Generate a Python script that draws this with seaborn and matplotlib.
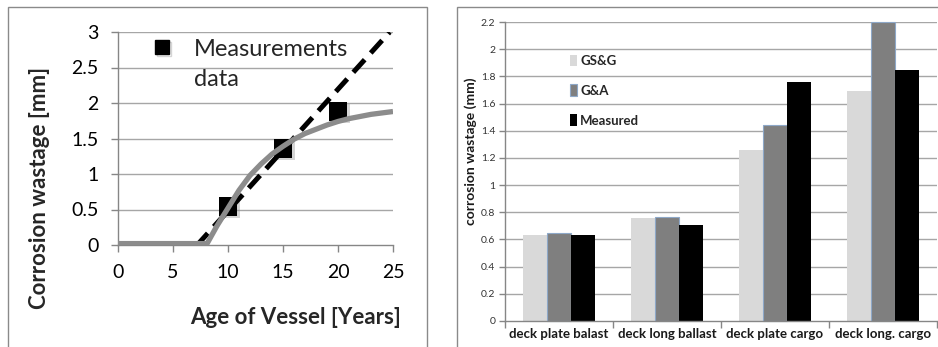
import numpy as np
import pandas as pd
import matplotlib
matplotlib.use("Agg")
import matplotlib.pyplot as plt
import matplotlib.patheffects as pe
from matplotlib.patches import Rectangle, Patch
from matplotlib.lines import Line2D
import seaborn as sns

# ---------------- data ----------------
# left panel
meas_age = [10, 15, 20]
meas_wastage = [0.54, 1.36, 1.88]
linear_age = [0, 7.2, 24.7]
linear_wastage = [0.0, 0.0, 3.0]
curve_age = [0, 8.1, 9, 10, 11, 12, 13, 14, 15, 16, 17, 18, 19, 20, 21, 22, 23, 24, 25]
curve_wastage = [0.02, 0.02, 0.27, 0.52, 0.77, 0.98, 1.14, 1.28, 1.39, 1.49, 1.57,
                 1.63, 1.69, 1.74, 1.78, 1.81, 1.84, 1.86, 1.88]

# right panel
categories = ["deck plate balast", "deck long ballast", "deck plate cargo", "deck long. cargo"]
series = ["GS&G", "G&A", "Measured"]
gsg = [0.635, 0.755, 1.255, 1.695]
ga = [0.645, 0.765, 1.445, 2.2]
measured = [0.635, 0.705, 1.76, 1.85]
colors = ["#d9d9d9", "#7f7f7f", "#000000"]

# ---------------- style ----------------
sns.set_theme(style="white")
plt.rcParams["font.family"] = ["Lato", "DejaVu Sans"]

W, H = 938, 347
fig = plt.figure(figsize=(W / 100, H / 100), dpi=100)

def fx(px):
    return px / W

def fy(py):
    return 1 - py / H

# frames
fig.add_artist(Rectangle((fx(8), -0.1), fx(427 - 8), fy(7) + 0.1, transform=fig.transFigure,
                         fill=False, edgecolor="#8a8a8a", lw=1.0))
fig.add_artist(Rectangle((fx(457), -0.1), 0.6, fy(7) + 0.1, transform=fig.transFigure,
                         fill=False, edgecolor="#8a8a8a", lw=1.0))

# ---------------- left panel ----------------
ax1 = fig.add_axes([fx(118), fy(245), fx(393 - 118), (245 - 32) / H])
ax1.set_xlim(0, 25)
ax1.set_ylim(0, 3)
ax1.set_xticks([0, 5, 10, 15, 20, 25])
ax1.set_xticklabels(["0", "5", "10", "15", "20", "25"])
ax1.set_yticks([0, 0.5, 1, 1.5, 2, 2.5, 3])
ax1.set_yticklabels(["0", "0.5", "1", "1.5", "2", "2.5", "3"])
for y in [0.5, 1, 1.5, 2, 2.5, 3]:
    ax1.axhline(y, color="#a6a6a6", lw=1.0, zorder=0)
for s in ["top", "right"]:
    ax1.spines[s].set_visible(False)
for s in ["left", "bottom"]:
    ax1.spines[s].set_color("#868686")
    ax1.spines[s].set_linewidth(1.0)
ax1.tick_params(axis="both", which="major", length=5, width=1, color="#868686",
                labelsize=14, labelcolor="#000000", direction="out")
ax1.tick_params(axis="y", pad=9, left=True)
ax1.tick_params(axis="x", pad=9, bottom=True)

shadow = [pe.SimplePatchShadow(offset=(1.5, -1.5), shadow_rgbFace="#888888", alpha=0.35), pe.Normal()]
sc = sns.scatterplot(x=meas_age, y=meas_wastage, marker="s", s=185, color="black",
                     edgecolor="none", ax=ax1, zorder=3, clip_on=False)
sc.collections[0].set_path_effects(shadow)
sns.lineplot(x=linear_age, y=linear_wastage, color="black", lw=3.6, ax=ax1, zorder=4,
             estimator=None, sort=False)
ax1.lines[-1].set_dashes([3.4, 1.8])
ax1.lines[-1].set_dash_capstyle("butt")
sns.lineplot(x=curve_age, y=curve_wastage, color="#8c8c8c", lw=3.8, ax=ax1, zorder=5,
             estimator=None, sort=False)
ax1.lines[-1].set_solid_capstyle("butt")

leg_handle = Line2D([], [], marker="s", linestyle="none", color="black", markersize=10,
                    path_effects=[pe.SimpleLineShadow(offset=(1.5, -1.5), shadow_color="#888888", alpha=0.35),
                                  pe.Normal()])
leg1 = ax1.legend([leg_handle], ["Measurements"], loc="center left",
                  bbox_to_anchor=(fx(148), fy(49)), bbox_transform=fig.transFigure,
                  frameon=False, fontsize=17, handletextpad=0.76, borderpad=0,
                  borderaxespad=0, handlelength=1.2)
fig.text(fx(194), fy(80), "data", fontsize=17, ha="left", va="center")

fig.text(fx(40), fy(187.5), "Corrosion wastage [mm]", rotation=90, fontsize=16,
         fontweight="bold", ha="center", va="center")
fig.text(fx(295.5), fy(318), "Age of Vessel [Years]", fontsize=16, fontweight="bold",
         ha="center", va="center")

# ---------------- right panel ----------------
ax2 = fig.add_axes([fx(505), fy(321), fx(937 - 505), (321 - 22) / H])
df = pd.DataFrame({
    "category": categories * 3,
    "series": [series[0]] * 4 + [series[1]] * 4 + [series[2]] * 4,
    "value": gsg + ga + measured,
})
sns.barplot(data=df, x="category", y="value", hue="series", hue_order=series,
            order=categories, palette=colors, saturation=1, width=0.67, gap=0,
            linewidth=0, ax=ax2, legend=False, zorder=2)
for bar in ax2.containers[1]:
    bar.set_edgecolor("#8ea8c8")
    bar.set_linewidth(0.8)
for c in ax2.containers:
    for b in c:
        b.set_clip_on(False)

ax2.set_xlim(-0.5, 3.5)
ax2.set_ylim(0, 2.2)
ax2.set_yticks(np.arange(0, 2.21, 0.2))
ax2.set_yticklabels(["0", "0.2", "0.4", "0.6", "0.8", "1", "1.2", "1.4", "1.6", "1.8", "2", "2.2"])
for y in np.arange(0.2, 2.21, 0.2):
    ax2.axhline(y, color="#a6a6a6", lw=1.0, zorder=0)
ax2.set_xlabel("")
ax2.set_ylabel("")
for s in ["top", "right"]:
    ax2.spines[s].set_visible(False)
for s in ["left", "bottom"]:
    ax2.spines[s].set_color("#868686")
    ax2.spines[s].set_linewidth(1.0)
ax2.set_xticks([0, 1, 2, 3])
ax2.set_xticklabels(categories)
ax2.set_xticks([-0.5, 0.5, 1.5, 2.5, 3.5], minor=True)
ax2.tick_params(axis="x", which="major", length=0, pad=5, labelsize=9.5, labelcolor="#1a1a1a")
for t in ax2.get_xticklabels():
    t.set_fontweight("bold")
ax2.tick_params(axis="x", which="minor", length=5, width=1, color="#868686", bottom=True,
                direction="out")
ax2.tick_params(axis="y", which="major", length=4, width=1, color="#868686", left=True,
                labelsize=7.5, labelcolor="#333333", pad=3, direction="out")

handles = [Patch(facecolor=colors[0], edgecolor="none"),
           Patch(facecolor=colors[1], edgecolor="#8ea8c8", lw=0.8),
           Patch(facecolor=colors[2], edgecolor="none")]
leg2 = ax2.legend(handles, series, loc="upper left", bbox_to_anchor=(fx(569.5), fy(54.5)),
                  bbox_transform=fig.transFigure, frameon=False, handlelength=0.55,
                  handleheight=1.0, handletextpad=0.25, labelspacing=1.32, borderpad=0,
                  borderaxespad=0, prop={"size": 9.5, "weight": "bold"})

fig.text(fx(471), fy(151), "corrosion wastage (mm)", rotation=90, fontsize=10,
         fontweight="bold", ha="center", va="center", color="#1a1a1a")

fig.savefig("out.png", dpi=100)
